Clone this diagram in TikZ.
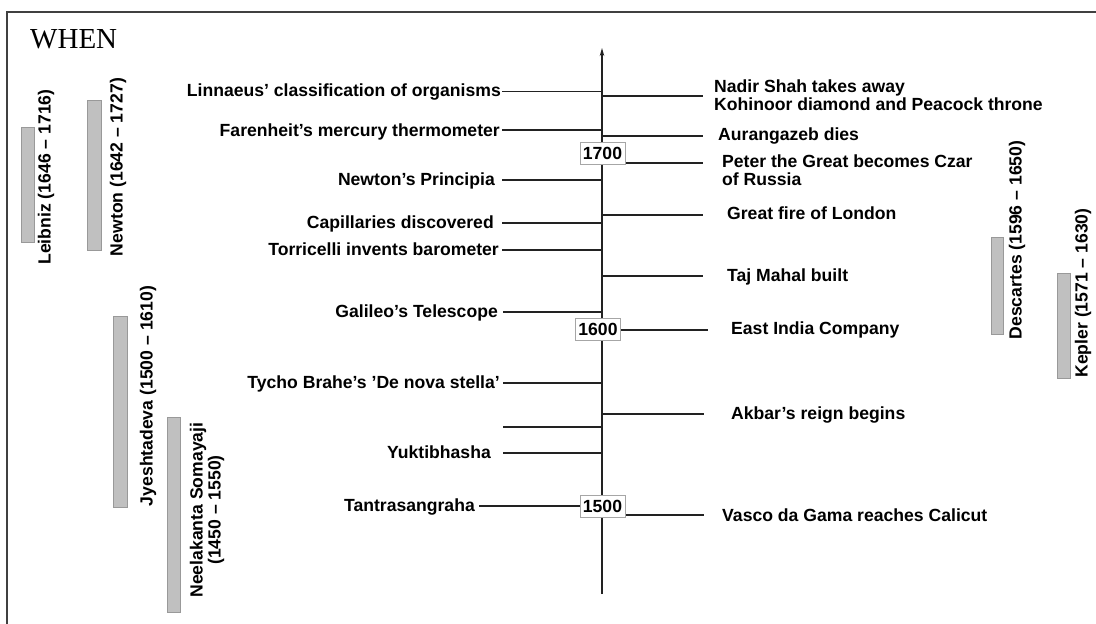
\documentclass[tikz,border=0pt]{standalone}
\usepackage{fontspec}
\setmainfont{Liberation Serif}
\setsansfont{Liberation Sans}
\usetikzlibrary{arrows.meta}
\definecolor{barfill}{HTML}{C0C0C0}
\definecolor{barline}{HTML}{999999}
\definecolor{inkline}{HTML}{222222}
\newcommand\evfont{\fontsize{17.6}{18}\selectfont\sffamily\bfseries}
\tikzset{
  ev/.style={font=\evfont, inner sep=0pt, text=black},
  evl/.style={ev, anchor=base east},
  evr/.style={ev, anchor=base west},
  evr2/.style={ev, anchor=north west, align=left},
  who/.style={ev, rotate=90, align=center},
  tick/.style={line width=1.3pt, draw=inkline},
  yearbox/.style={draw=gray!70, fill=white, font=\evfont, inner sep=0pt,
    minimum width=45pt, minimum height=22pt, line width=0.8pt},
  lifebar/.style={draw=barline, fill=barfill, line width=0.8pt, inner sep=0pt},
}
\begin{document}
\begin{tikzpicture}[x=1pt,y=-1pt]
\useasboundingbox (0,0) rectangle (1096,624);

% frame
\draw[line width=1.4pt, black!75] (7,624) -- (7,12) -- (1096,12);
\node[font=\fontsize{29}{30}\selectfont\rmfamily, anchor=base west, inner sep=0pt] (when) at (30,48) {WHEN};

% time axis
\coordinate (axB) at (602,594);
\coordinate (axT) at (602,48);
\draw[tick, -{Stealth[length=8pt,width=4.5pt]}] (axB) -- (axT);

% left-hand events: line start and axis point
\foreach \n/\xs/\y in {lin/502/91.5, far/502/130, pri/502/180, cap/502/223, tor/502/250,
                      gal/503/312, tyc/503/383, unl/503/427, yuk/503/453, tan/479/506}{
  \coordinate (s\n) at (\xs,\y);
  \coordinate (a\n) at (602,\y);
  \draw[tick] (s\n) -- (a\n);
}
% right-hand events: axis point and line end
\foreach \n/\xe/\y in {nad/703/96, aur/703/136, pet/703/163, fir/703/215, taj/703/276,
                      eic/708/330, akb/704/414, vas/704/515}{
  \coordinate (b\n) at (602,\y);
  \coordinate (e\n) at (\xe,\y);
  \draw[tick] (b\n) -- (e\n);
}

% century markers
\node[yearbox] (y1700) at (602.5,153) {1700};
\node[yearbox] (y1600) at (598,329.5) {1600};
\node[yearbox] (y1500) at (602.5,506) {1500};

% labels, left
\node[evl] (tlin) at (501,96) {Linnaeus’ classification of organisms};
\node[evl] (tfar) at (500,136) {Farenheit’s mercury thermometer};
\node[evl] (tpri) at (495,185) {Newton’s Principia};
\node[evl] (tcap) at (494,228) {Capillaries discovered};
\node[evl] (ttor) at (499,255) {Torricelli invents barometer};
\node[evl] (tgal) at (498,317) {Galileo’s Telescope};
\node[evl] (ttyc) at (500,388) {Tycho Brahe’s ’De nova stella’};
\node[evl] (tyuk) at (491,458) {Yuktibhasha};
\node[evl] (ttan) at (475,511) {Tantrasangraha};

% labels, right
\node[evr2] (tnad) at (714,79.5) {Nadir Shah takes away\\Kohinoor diamond and Peacock throne};
\node[evr] (taur) at (718,140) {Aurangazeb dies};
\node[evr2] (tpet) at (722,154.5) {Peter the Great becomes Czar\\of Russia};
\node[evr] (tfir) at (727,219) {Great fire of London};
\node[evr] (ttaj) at (727,281) {Taj Mahal built};
\node[evr] (teic) at (731,334) {East India Company};
\node[evr] (takb) at (731,419) {Akbar’s reign begins};
\node[evr] (tvas) at (722,521) {Vasco da Gama reaches Calicut};

% lifetimes
\node[lifebar, minimum width=13pt, minimum height=115pt] (bleib) at (27.5,184.5) {};
\node[who] (nleib) at (46,177) {Leibniz (1646 – 1716)};
\node[lifebar, minimum width=14pt, minimum height=150pt] (bnewt) at (94,175) {};
\node[who] (nnewt) at (118,167) {Newton (1642 – 1727)};
\node[lifebar, minimum width=14pt, minimum height=191pt] (bjye) at (120,411.5) {};
\node[who] (njye) at (148,396) {Jyeshtadeva (1500 – 1610)};
\node[lifebar, minimum width=13pt, minimum height=195pt] (bnee) at (173.5,514.5) {};
\node[who] (nnee) at (207,510) {Neelakanta Somayaji\\(1450 – 1550)};
\node[lifebar, minimum width=12pt, minimum height=97pt] (bdes) at (997,285.5) {};
\node[who] (ndes) at (1017,240) {Descartes (1596 – 1650)};
\node[lifebar, minimum width=13pt, minimum height=105pt] (bkep) at (1063.5,325.5) {};
\node[who] (nkep) at (1083,293) {Kepler (1571 – 1630)};
\end{tikzpicture}
\end{document}
